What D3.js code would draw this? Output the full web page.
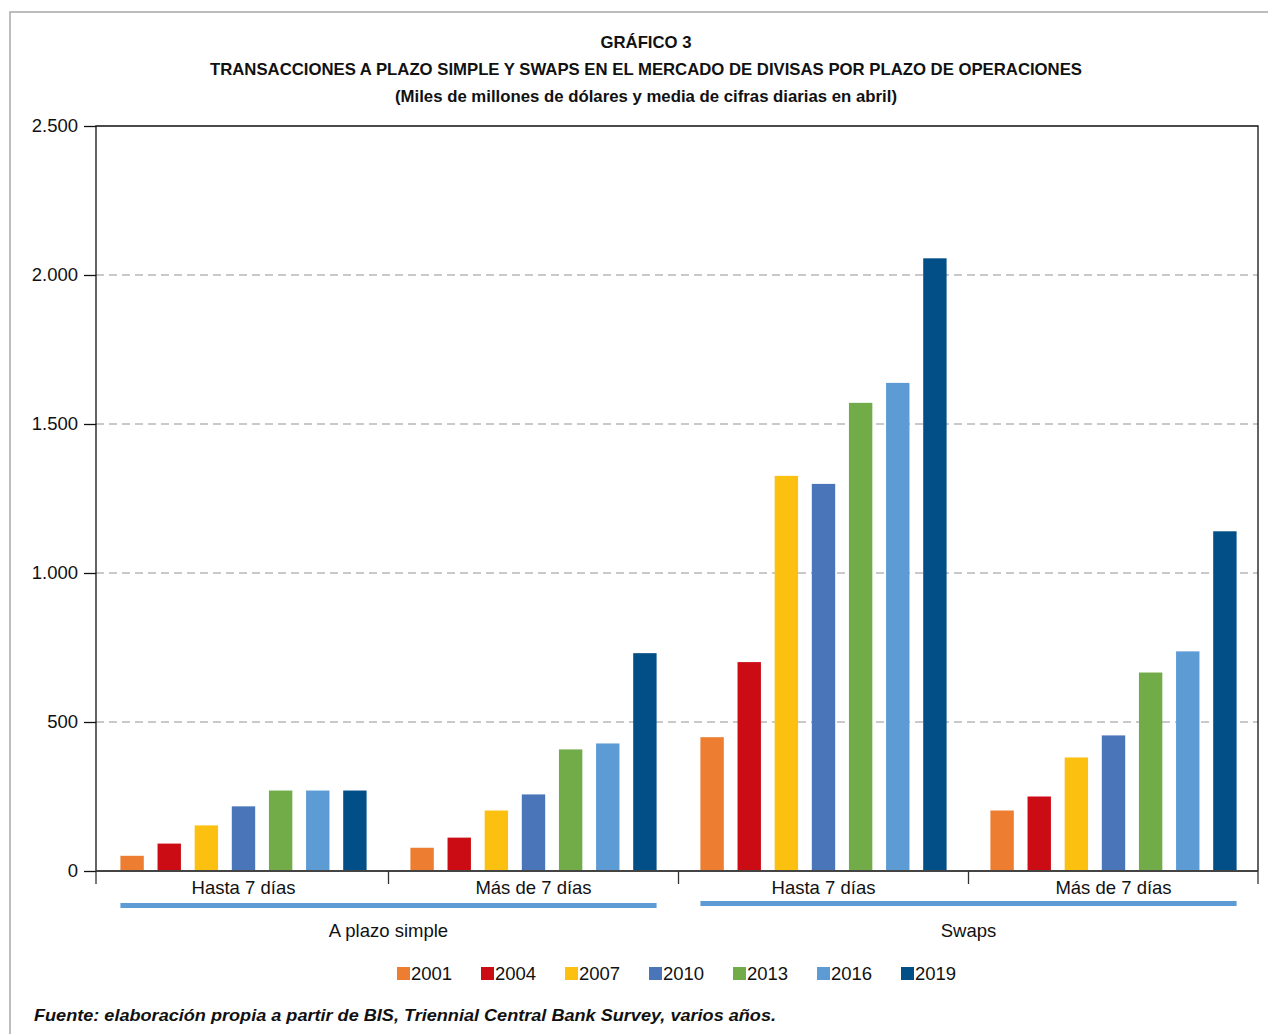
<!DOCTYPE html>
<html>
<head>
<meta charset="utf-8">
<script src="https://cdn.jsdelivr.net/npm/d3@7"></script>
<style>
  body { margin: 0; background: #fff; }
  svg { display: block; font-family: "Liberation Sans", Arial, sans-serif; }
</style>
</head>
<body>
<svg id="chart" width="1268" height="1034"></svg>
<script>
// data
const groups = ["ps_hasta", "ps_mas", "sw_hasta", "sw_mas"];
const groupLabels = ["Hasta 7 días", "Más de 7 días", "Hasta 7 días", "Más de 7 días"];
const years = ["2001", "2004", "2007", "2010", "2013", "2016", "2019"];
const colors = ["#ed7d31", "#cc0c14", "#fcc010", "#4a75b9", "#72ac48", "#5d9bd4", "#024f87"];
const valsPlazoHasta = [51, 92, 153, 217, 270, 270, 270];
const valsPlazoMas = [78, 112, 203, 257, 408, 428, 731];
const valsSwapHasta = [449, 701, 1326, 1299, 1571, 1638, 2056];
const valsSwapMas = [203, 250, 381, 455, 666, 737, 1140];
const superGroups = [
    {label: "A plazo simple", from: "ps_hasta", to: "ps_mas"},
    {label: "Swaps", from: "sw_hasta", to: "sw_mas"}
];
const yTicks = [0, 500, 1000, 1500, 2000, 2500];

const seriesByGroup = {
    ps_hasta: valsPlazoHasta, ps_mas: valsPlazoMas,
    sw_hasta: valsSwapHasta, sw_mas: valsSwapMas
};

const svg = d3.select('#chart');
const margin = {top: 126, left: 96, right: 10, bottom: 163};
const W = 1268, H = 1034;
const plotL = margin.left, plotR = W - margin.right;
const plotT = margin.top, plotB = H - margin.bottom;
const labelSize = 18.5;

// outer frame
svg.append('path')
    .attr('d', `M10,${H} L10,12 L${W},12`)
    .attr('fill', 'none').attr('stroke', '#a8a8a8').attr('stroke-width', 1.5);

// titles
const titles = [
    {t: "GRÁFICO 3", y: 48, len: 91},
    {t: "TRANSACCIONES A PLAZO SIMPLE Y SWAPS EN EL MERCADO DE DIVISAS POR PLAZO DE OPERACIONES", y: 75, len: 872},
    {t: "(Miles de millones de dólares y media de cifras diarias en abril)", y: 102, len: 502}
];
titles.forEach(d => {
    svg.append('text')
        .attr('x', 646).attr('y', d.y)
        .attr('text-anchor', 'middle')
        .attr('font-weight', 'bold').attr('font-size', 16.5)
        .attr('fill', '#111')
        .attr('textLength', d.len).attr('lengthAdjust', 'spacingAndGlyphs')
        .text(d.t);
});

const yScale = d3.scaleLinear().domain([0, 2500]).range([plotB, plotT]);
// groups in the original are a touch narrower on the left
const x0 = d3.scaleBand().domain(groups).range([plotL + 2.5, plotR + 0.5]).padding(0);
const x1 = d3.scaleBand().domain(years).range([0, x0.bandwidth()])
    .paddingInner(0.37).paddingOuter(0.59);

// gridlines
svg.append('g').selectAll('line')
    .data(yTicks.filter(v => v > 0 && v < 2500))
    .join('line')
    .attr('x1', plotL).attr('x2', plotR)
    .attr('y1', d => yScale(d)).attr('y2', d => yScale(d))
    .attr('stroke', '#b8b8b8').attr('stroke-width', 1.3)
    .attr('stroke-dasharray', '8,5');

// bars
const gBars = svg.append('g');
groups.forEach(g => {
    gBars.append('g')
        .attr('transform', `translate(${x0(g)},0)`)
        .selectAll('rect')
        .data(seriesByGroup[g].map((v, i) => ({year: years[i], v, c: colors[i]})))
        .join('rect')
        .attr('x', d => x1(d.year))
        .attr('width', x1.bandwidth())
        .attr('y', d => yScale(d.v))
        .attr('height', d => plotB - yScale(d.v))
        .attr('fill', d => d.c);
});

// frame of plot (left, top, right)
svg.append('path')
    .attr('d', `M${plotL},${plotB} L${plotL},${plotT} L${plotR},${plotT} L${plotR},${plotB}`)
    .attr('fill', 'none').attr('stroke', '#111').attr('stroke-width', 1.3);

// y axis
const yAxis = svg.append('g')
    .attr('transform', `translate(${plotL},0)`)
    .call(d3.axisLeft(yScale).tickValues(yTicks).tickSize(12).tickPadding(6)
        .tickFormat(d => d3.format(',')(d).replace(',', '.')));
yAxis.select('.domain').remove();
yAxis.selectAll('.tick line').attr('stroke', '#111').attr('stroke-width', 1.3);
yAxis.selectAll('.tick text')
    .attr('font-size', labelSize).attr('fill', '#111')
    .attr('font-family', '"Liberation Sans", Arial, sans-serif');

// x axis: baseline, group ticks, group labels
svg.append('line')
    .attr('x1', plotL).attr('x2', plotR)
    .attr('y1', plotB).attr('y2', plotB)
    .attr('stroke', '#444').attr('stroke-width', 2);
const tickXs = [plotL].concat(groups.slice(1).map(g => x0(g)), [plotR]);
svg.append('g').selectAll('line')
    .data(tickXs)
    .join('line')
    .attr('x1', d => d).attr('x2', d => d)
    .attr('y1', plotB).attr('y2', plotB + 13)
    .attr('stroke', '#333').attr('stroke-width', 1.3);
svg.append('g').selectAll('text')
    .data(groups)
    .join('text')
    .attr('x', d => x0(d) + x0.bandwidth() / 2)
    .attr('y', plotB + 22.5)
    .attr('text-anchor', 'middle')
    .attr('font-size', labelSize).attr('fill', '#111')
    .text((d, i) => groupLabels[i]);

// super group brackets
superGroups.forEach((s, i) => {
    const xa = x0(s.from) + x1(years[0]);
    const xb = x0(s.to) + x1(years[years.length - 1]) + x1.bandwidth();
    const yy = i === 0 ? 905.5 : 903.5;
    svg.append('line')
        .attr('x1', xa).attr('x2', xb)
        .attr('y1', yy).attr('y2', yy)
        .attr('stroke', '#5d9bd4').attr('stroke-width', 5);
    svg.append('text')
        .attr('x', (x0(s.from) + x0(s.to) + x0.bandwidth()) / 2)
        .attr('y', 936.5)
        .attr('text-anchor', 'middle')
        .attr('font-size', labelSize).attr('fill', '#111')
        .text(s.label);
});

// legend
const legend = svg.append('g').attr('transform', 'translate(397,967)');
const item = legend.selectAll('g')
    .data(years)
    .join('g')
    .attr('transform', (d, i) => `translate(${i * 84},0)`);
item.append('rect')
    .attr('width', 13).attr('height', 13)
    .attr('fill', (d, i) => colors[i]);
item.append('text')
    .attr('x', 14).attr('y', 13)
    .attr('font-size', labelSize).attr('fill', '#111')
    .text(d => d);

// source note
svg.append('text')
    .attr('x', 34).attr('y', 1021)
    .attr('font-size', 17).attr('font-weight', 'bold').attr('font-style', 'italic')
    .attr('fill', '#111')
    .attr('textLength', 742).attr('lengthAdjust', 'spacingAndGlyphs')
    .text("Fuente: elaboración propia a partir de BIS, Triennial Central Bank Survey, varios años.");
</script>
</body>
</html>
